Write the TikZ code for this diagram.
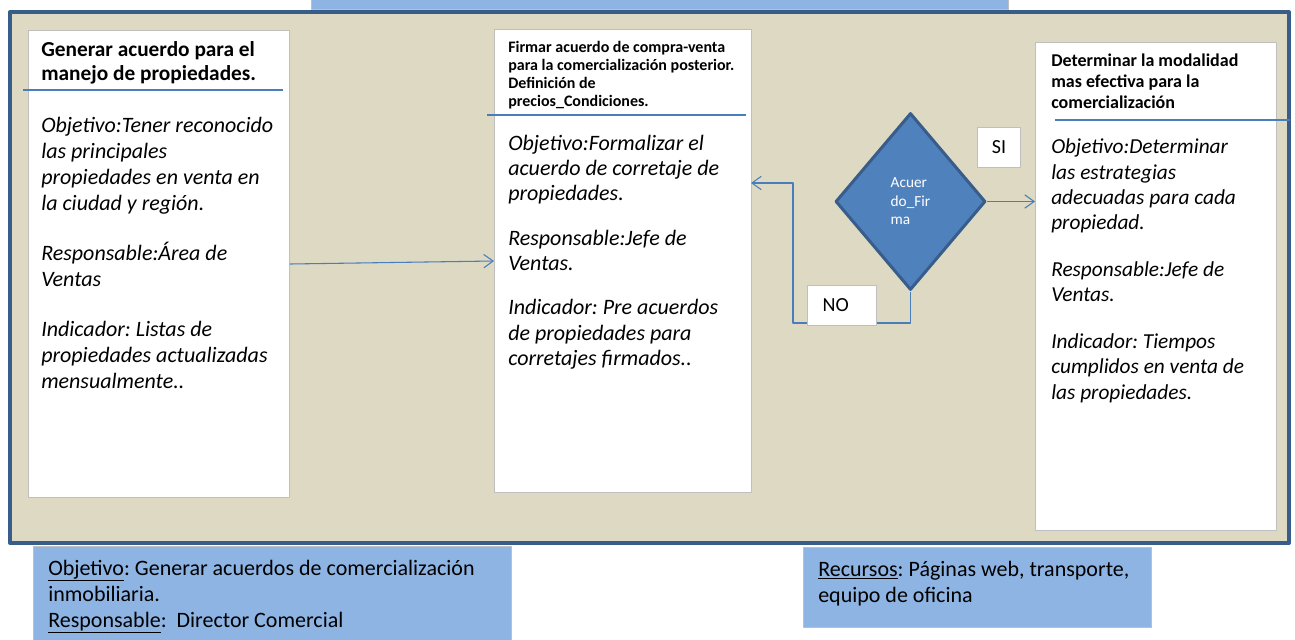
\documentclass[tikz,border=0pt]{standalone}
\usepackage{fontspec}
\setmainfont{Carlito}
\usetikzlibrary{positioning,shapes.geometric,arrows.meta}
\definecolor{panelfill}{RGB}{221,217,195}
\definecolor{paneledge}{RGB}{56,93,138}
\definecolor{notefill}{RGB}{142,180,227}
\definecolor{linkblue}{RGB}{74,126,187}
\definecolor{decfill}{RGB}{79,129,189}
\definecolor{cardedge}{RGB}{191,191,191}
\frenchspacing
\begin{document}
\begin{tikzpicture}[x=0.75pt, y=-0.75pt, line join=round, >={Straight Barb[length=7pt,width=10pt]},
	card/.style={draw=cardedge, fill=white, line width=0.75pt, anchor=north west, inner sep=0pt},
	note/.style={draw=cardedge, fill=notefill, line width=0.75pt, anchor=north west, inner sep=0pt},
	head/.style={anchor=base west, align=left, inner sep=0pt},
	body/.style={anchor=base west, align=left, inner sep=0pt, font=\fontsize{16.5}{19.5}\selectfont\itshape},
	flow/.style={->, draw=linkblue, line width=0.8pt},
	rule/.style={draw=linkblue, line width=0.8pt}]
	\useasboundingbox (0,0) rectangle (1295,639);
	\draw[line width=3pt, draw=paneledge, fill=panelfill] (10,12) rectangle (1289,543);
	\node[note, anchor=south west, minimum width=522.75pt, minimum height=30pt] (bar) at (311,10) {};
	\node[card, minimum width=195.75pt, minimum height=350.25pt] (b1) at (28,30) {};
	\node[card, minimum width=192.75pt, minimum height=347.25pt] (b2) at (494,29) {};
	\node[card, minimum width=180.75pt, minimum height=366pt] (b3) at (1035,42) {};
	\draw[rule] (23,90) -- (283,90);
	\draw[rule] (487,115) -- (746,115);
	\draw[rule] (1055,120) -- (1290,120);
	\node[head, font=\fontsize{16}{18}\selectfont\bfseries] (h1) at (41,80) {Generar acuerdo para el\\manejo de propiedades.};
	\node[body] (t1) at (41,388) {Objetivo:Tener reconocido\\las principales\\propiedades en venta en\\la ciudad y región.\\[18pt]Responsable:Área de\\Ventas\\[18pt]Indicador: Listas de\\propiedades actualizadas\\mensualmente..};
	\node[head, font=\fontsize{12}{13.7}\selectfont\bfseries] (h2) at (508,106.8) {Firmar acuerdo de compra-venta\\para la comercialización posterior.\\Definición de\\precios\_Condiciones.};
	\node[body, font=\fontsize{16.5}{19.1}\selectfont\itshape] (t2) at (508,365.6) {Objetivo:Formalizar el\\acuerdo de corretaje de\\propiedades.\\[14pt]Responsable:Jefe de\\Ventas.\\[14pt]Indicador: Pre acuerdos\\de propiedades para\\corretajes firmados..};
	\node[head, font=\fontsize{13.5}{16}\selectfont\bfseries] (h3) at (1051,108.7) {Determinar la modalidad\\mas efectiva para la\\comercialización};
	\node[body, font=\fontsize{16}{19}\selectfont\itshape] (t3) at (1051,399.3) {Objetivo:Determinar\\las estrategias\\adecuadas para cada\\propiedad.\\[16pt]Responsable:Jefe de\\Ventas.\\[16pt]Indicador: Tiempos\\cumplidos en venta de\\las propiedades.};
	\node[diamond, draw=paneledge, line width=2.25pt, fill=decfill, minimum width=112.5pt, minimum height=132.75pt, inner sep=0pt, text=white, align=left, font=\fontsize{11.5}{13.9}\selectfont] (dec) at (910.5,201.5) {Acuer\\do\_Fir\\ma};
	\coordinate (noturn) at (793,323);
	\coordinate (noback) at (751,183);
	\draw[flow] (b1.east) -- (b2.west);
	\draw[flow] (dec.south) |- (noturn) |- (noback);
	\draw[flow] (dec.east) -- (dec.east -| b3.west);
	\node[card, minimum width=51.75pt, minimum height=30pt, text width=29pt, inner xsep=11.25pt, align=left, font=\fontsize{15}{16}\selectfont] (no) at (807,285) {NO};
	\node[card, minimum width=32.25pt, minimum height=30pt, font=\fontsize{15}{16}\selectfont] (si) at (977,127) {SI};
	\node[note, minimum width=358.5pt, minimum height=80pt] (goal) at (33,546) {};
	\node[body, font=\fontsize{16.5}{19.5}\selectfont] (goaltext) at (48,627) {\underline{Objetivo}: Generar acuerdos de comercialización\\inmobiliaria.\\\underline{Responsable}:\ \ Director Comercial};
	\node[note, minimum width=261pt, minimum height=60pt] (res) at (803,547) {};
	\node[body, font=\fontsize{16.5}{19.5}\selectfont] (restext) at (818,602) {\underline{Recursos}: Páginas web, transporte,\\equipo de oficina};
\end{tikzpicture}
\end{document}
